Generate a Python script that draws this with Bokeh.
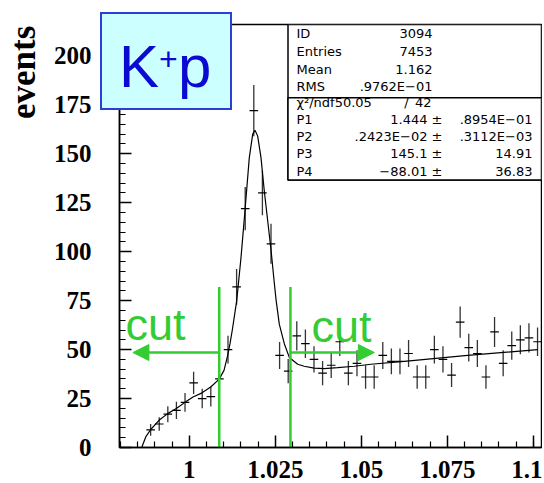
from bokeh.plotting import figure
from bokeh.layouts import column
from bokeh.models import (Label, BoxAnnotation, Arrow, NormalHead, FixedTicker, Div,
                          SingleIntervalTicker, NumeralTickFormatter, Range1d)
from bokeh.embed import file_html
from bokeh.resources import INLINE

# ---------------- data ----------------
bin_centers = [0.98875, 0.99125, 0.99375, 0.99625, 0.99875, 1.00125, 1.00375, 1.00625,
               1.00875, 1.01125, 1.01375, 1.01625, 1.01875, 1.02125, 1.02375, 1.02625,
               1.02875, 1.03125, 1.03375, 1.03625, 1.03875, 1.04125, 1.04375, 1.04625,
               1.04875, 1.05125, 1.05375, 1.05625, 1.05875, 1.06125, 1.06375, 1.06625,
               1.06875, 1.07125, 1.07375, 1.07625, 1.07875, 1.08125, 1.08375, 1.08625,
               1.08875, 1.09125, 1.09375, 1.09625, 1.09875, 1.10125]
counts = [9, 12, 17, 19, 23, 33, 25, 26, 35, 50, 82, 122, 172, 130, 104, 47,
          39, 57, 53, 45, 38, 42, 54, 38, 43, 36, 36, 47, 44, 44, 48, 36,
          36, 50, 45, 37, 64, 51, 48, 36, 59, 43, 52, 55, 56, 54]
errors = [3.0, 3.5, 4.1, 4.4, 4.8, 5.7, 5.0, 5.1, 5.9, 7.1, 9.1, 11.0, 13.1, 11.4, 10.2, 6.9,
          6.2, 7.5, 7.3, 6.7, 6.2, 6.5, 7.3, 6.2, 6.6, 6.0, 6.0, 6.9, 6.6, 6.6, 6.9, 6.0,
          6.0, 7.1, 6.7, 6.1, 8.0, 7.1, 6.9, 6.0, 7.7, 6.6, 7.2, 7.4, 7.5, 7.3]
bin_width = 0.0025

fit_x = [0.98616, 0.98733, 0.98878, 0.99119, 0.99372, 0.99622, 0.99895, 1.00108, 1.00369,
         1.00622, 1.00863, 1.01009, 1.01116, 1.01183, 1.0125, 1.01378, 1.01503, 1.01619,
         1.01744, 1.01843, 1.0191, 1.01988, 1.02084, 1.0218, 1.02375, 1.02471, 1.02525,
         1.02616, 1.02762, 1.02907, 1.03151, 1.0334, 1.03631, 1.03922, 1.04311, 1.04794,
         1.0528, 1.0625, 1.0809, 1.1013]
fit_y = [0, 5.4, 9.2, 13.9, 17.3, 19.9, 23.3, 25.8, 27.9,
         30.9, 34.8, 39.4, 47, 53, 60, 75, 97, 121,
         148, 160, 162, 159, 148, 131, 101, 84, 75,
         63, 53, 46, 42.5, 41.5, 40.5, 40.3, 40.8, 41.5,
         42.5, 44, 47, 50]

cut_x = [1.0087, 1.0294]
cut_top = 82
arrow_y = 48.5
arrow_tips = [0.9836, 1.0538]

x_major = [1.0, 1.025, 1.05, 1.075, 1.1]
x_minor = [0.98, 0.985, 0.99, 0.995, 1.005, 1.01, 1.015, 1.02, 1.03, 1.035, 1.04, 1.045,
           1.055, 1.06, 1.065, 1.07, 1.08, 1.085, 1.09, 1.095, 1.1]

y_title = "events"
stat_names = ["ID", "Entries", "Mean", "RMS"]
stat_vals = ["3094", "7453", "1.162", ".9762E\u221201"]
chi_text = "\u03c7\u00b2/ndf50.05"
chi_ndf = "42"
par_names = ["P1", "P2", "P3", "P4"]
par_vals = ["1.444 \u00b1", ".2423E\u221202 \u00b1", "145.1 \u00b1", "\u221288.01 \u00b1"]
par_errs = [".8954E\u221201", ".3112E\u221203", "14.91", "36.83"]

# ---------------- figure ----------------
XR = (0.9797, 1.1024)
YR = (0, 216)
W, H = 542, 483
ML, MR, MT, MB = 119, 1, 24, 36
FW = W - ML - MR
FH = H - MT - MB

def X(px):  # canvas x pixel -> data
    return XR[0] + (px - ML) * (XR[1] - XR[0]) / FW

def Y(py):  # canvas y pixel -> data
    return YR[0] + (H - MB - py) * (YR[1] - YR[0]) / FH

p = figure(width=W, height=H, x_range=Range1d(*XR), y_range=Range1d(*YR),
           output_backend="svg", toolbar_location=None,
           min_border_left=ML, min_border_right=MR, min_border_top=MT, min_border_bottom=MB,
           background_fill_color="white", border_fill_color="white")
p.xgrid.visible = False
p.ygrid.visible = False
p.outline_line_color = "black"
p.outline_line_width = 1.5

p.xaxis.ticker = FixedTicker(ticks=x_major, minor_ticks=x_minor)
p.xaxis.formatter = NumeralTickFormatter(format="0.[000]")
p.yaxis.ticker = SingleIntervalTicker(interval=25, num_minor_ticks=5)
for ax in (p.xaxis, p.yaxis):
    ax.axis_line_width = 1.5
    ax.major_tick_in = 12
    ax.major_tick_out = 0
    ax.minor_tick_in = 6
    ax.minor_tick_out = 0
    ax.major_tick_line_width = 1.5
    ax.minor_tick_line_width = 1.2
    ax.major_label_text_font = "Liberation Serif"
    ax.major_label_text_font_style = "bold"
    ax.major_label_text_font_size = "25px"
    ax.major_label_text_color = "black"
p.xaxis.major_label_standoff = 13
p.yaxis.major_label_standoff = 28

green = "#33cc33"

# data: error bars
lo = [c - e for c, e in zip(counts, errors)]
hi = [c + e for c, e in zip(counts, errors)]
p.segment(x0=bin_centers, y0=lo, x1=bin_centers, y1=hi, line_color="#333333", line_width=1.3)
p.segment(x0=[c - bin_width / 2 for c in bin_centers], y0=counts,
          x1=[c + bin_width / 2 for c in bin_centers], y1=counts,
          line_color="black", line_width=1.2)
# fit curve
p.line(fit_x, fit_y, line_color="black", line_width=1.2)

# cuts
p.segment(x0=cut_x, y0=[0, 0], x1=cut_x, y1=[cut_top, cut_top], line_color=green, line_width=2.5)
for cx, tip in zip(cut_x, arrow_tips):
    p.add_layout(Arrow(x_start=cx, y_start=arrow_y, x_end=tip, y_end=arrow_y,
                       line_color=green, line_width=2.5,
                       end=NormalHead(size=16, fill_color=green, line_color=green)))
for lx, by in ((125, 324), (311, 326)):
    p.add_layout(Label(x=X(lx), y=Y(by), text="cut", text_font="Liberation Sans",
                       text_font_size="45px", text_color=green, text_baseline="alphabetic"))

# stats box
def cbox(l, r, t, b, fill, line, lw):
    p.add_layout(BoxAnnotation(left=l, right=r, top=t, bottom=b,
                               left_units="canvas", right_units="canvas",
                               top_units="canvas", bottom_units="canvas",
                               fill_color=fill, fill_alpha=1, line_color=line,
                               line_alpha=1, line_width=lw, level="overlay"))

cbox(287.5, 541, 24, 179.5, "white", "black", 1.5)
cbox(287.5, 541, 97.3, 179.5, "white", "black", 1.5)

def txt(px, py, s, align="left", size="13px"):
    p.add_layout(Label(x=X(px), y=Y(py), text=s, text_font="DejaVu Sans",
                       text_font_size=size, text_color="black", text_align=align,
                       text_baseline="middle", level="overlay"))

for i, (n, v) in enumerate(zip(stat_names, stat_vals)):
    yy = [33, 51, 68.5, 85.5][i]
    txt(296, yy, n)
    txt(432, yy, v, align="right")
txt(296, 101.5, chi_text)
txt(406, 101.5, "/", align="center")
txt(431, 101.5, chi_ndf, align="right")
for i, (n, v, e) in enumerate(zip(par_names, par_vals, par_errs)):
    yy = [119, 136, 153, 170.5][i]
    txt(296, yy, n)
    txt(442, yy, v, align="right")
    txt(532, yy, e, align="right")

# K+p box (HTML overlay so that it can reach past the frame edges)
blue = "#0a0ad2"
kp_html = (
    '<div style="position:relative;box-sizing:border-box;width:132px;height:98px;'
    'background:#ccffff;border:2px solid #2b3fd6;font-family:\'Liberation Sans\',sans-serif;'
    'color:%s;overflow:hidden;">'
    '<span style="position:absolute;left:17px;top:23.5px;font-size:60px;line-height:60px;">K</span>'
    '<span style="position:absolute;left:57px;top:29px;font-size:32px;line-height:32px;">+</span>'
    '<span style="position:absolute;left:76px;top:23.5px;font-size:60px;line-height:60px;">p</span>'
    '</div>' % blue)
kp = Div(text=kp_html, width=132, height=98,
         styles={"position": "absolute", "left": "100px", "top": "11.7px", "z-index": "10",
                 "margin": "0", "padding": "0"})

# rotated y-axis title at the top of the left side
ev_html = (
    '<div style="position:relative;width:36px;height:96px;">'
    '<div style="position:absolute;left:0;top:96px;width:96px;height:35px;'
    'transform-origin:0 0;transform:rotate(-90deg);white-space:nowrap;'
    'font-family:\'Liberation Serif\',serif;font-weight:bold;font-size:35px;line-height:35px;'
    'color:black;">%s</div></div>' % y_title)
ev = Div(text=ev_html, width=36, height=96,
         styles={"position": "absolute", "left": "5.7px", "top": "23px", "z-index": "10",
                 "margin": "0", "padding": "0"})

layout = column(p, kp, ev)
open("out.html", "w").write(file_html(layout, INLINE))
